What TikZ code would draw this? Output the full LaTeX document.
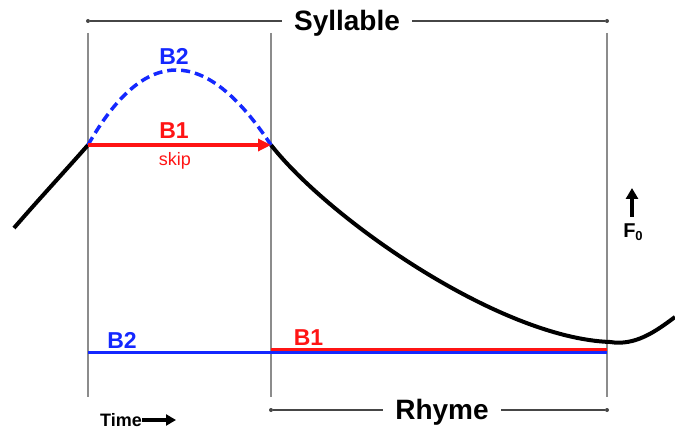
\documentclass[tikz,border=0pt]{standalone}
\usepackage{fontspec}
\setmainfont{Liberation Sans}
\usetikzlibrary{arrows.meta}
\definecolor{myblue}{RGB}{20,40,255}
\definecolor{myred}{RGB}{255,20,20}
\definecolor{guide}{RGB}{140,140,140}
\definecolor{brk}{RGB}{70,70,70}
\begin{document}
\begin{tikzpicture}[x=1pt,y=-1pt,
  guideline/.style={guide,line width=1.4pt},
  bracket/.style={brk,line width=1.4pt},
  dotend/.style={circle,fill=brk,inner sep=0pt,minimum size=4pt},
  bigtxt/.style={font=\fontsize{28}{30}\selectfont\bfseries,inner sep=0pt,anchor=base},
  lab/.style={font=\fontsize{23}{25}\selectfont\bfseries,inner sep=0pt,anchor=base},
  dashcurve/.style={myblue,line width=3.5pt,dash pattern=on 9pt off 5pt},
  ]
\useasboundingbox (0,0) rectangle (675,430);
% guide lines
\coordinate (g1t) at (88,33); \coordinate (g1b) at (88,397);
\coordinate (g2t) at (271,33); \coordinate (g2b) at (271,397);
\coordinate (g3t) at (607,33); \coordinate (g3b) at (607,397);
\draw[guideline] (g1t) -- (g1b);
\draw[guideline] (g2t) -- (g2b);
\draw[guideline] (g3t) -- (g3b);
% syllable bracket
\node[dotend] (sl) at (88,21) {};
\node[dotend] (sr) at (607,21) {};
\node[bigtxt] (syl) at (347,30.5) {Syllable};
\coordinate (sylw) at (282,21); \coordinate (syle) at (412,21);
\draw[bracket] (sl) -- (sylw);
\draw[bracket] (syle) -- (sr);
% rhyme bracket
\node[dotend] (rl) at (271,410) {};
\node[dotend] (rr) at (607,410) {};
\node[bigtxt] (rhy) at (442,420) {Rhyme};
\coordinate (rhyw) at (383,410); \coordinate (rhye) at (501,410);
\draw[bracket] (rl) -- (rhyw);
\draw[bracket] (rhye) -- (rr);
% F0 curve
\coordinate (c0) at (14,228);
\coordinate (c1) at (88,145);
\coordinate (c2) at (271,145);
\coordinate (c3) at (610,342);
\coordinate (c4) at (675,317);
\draw[line width=4pt] (c0) .. controls (40,198) and (66,170) .. (c1);
\draw[line width=4pt] (c2) .. controls (330,220) and (500,338) .. (c3)
   .. controls (635,346) and (655,332) .. (c4);
% B2 dashed hump
\draw[dashcurve] (c1) .. controls (145,45) and (205,45) .. (c2);
\node[lab,myblue] (b2t) at (174,65) {B2};
% B1 skip arrow
\draw[myred,line width=3.5pt,-{Triangle[length=13pt,width=12pt]}] (c1) -- (c2);
\node[lab,myred] (b1t) at (174,139) {B1};
\node[font=\fontsize{18}{20}\selectfont,inner sep=0pt,anchor=base,myred] (skip) at (175,166) {skip};
% bottom lines
\coordinate (bl1) at (88,353); \coordinate (bl2) at (607,353);
\coordinate (rl1) at (271,349.5); \coordinate (rl2) at (607,349.5);
\draw[myblue,line width=3pt] (bl1) -- (bl2);
\draw[myred,line width=3pt] (rl1) -- (rl2);
\node[lab,myblue] (b2b) at (122,349) {B2};
\node[lab,myred] (b1b) at (308.5,346) {B1};
% F0 arrow
\coordinate (fa) at (632,217); \coordinate (fb) at (632,188);
\draw[line width=3.5pt,-{Triangle[length=11pt,width=12pt]}] (fa) -- (fb);
\node[font=\fontsize{20}{22}\selectfont\bfseries,inner sep=0pt,anchor=base] (f0) at (633,238) {F\raisebox{-3pt}{\fontsize{13}{14}\selectfont 0}};
% Time arrow
\node[font=\fontsize{18}{20}\selectfont\bfseries,inner sep=0pt,anchor=base west] (time) at (100,426) {Time};
\coordinate (ta) at (145,420); \coordinate (tb) at (176,420);
\draw[line width=3.5pt,-{Triangle[length=10pt,width=11pt]}] (time.east |- ta) -- (tb);
\end{tikzpicture}
\end{document}
